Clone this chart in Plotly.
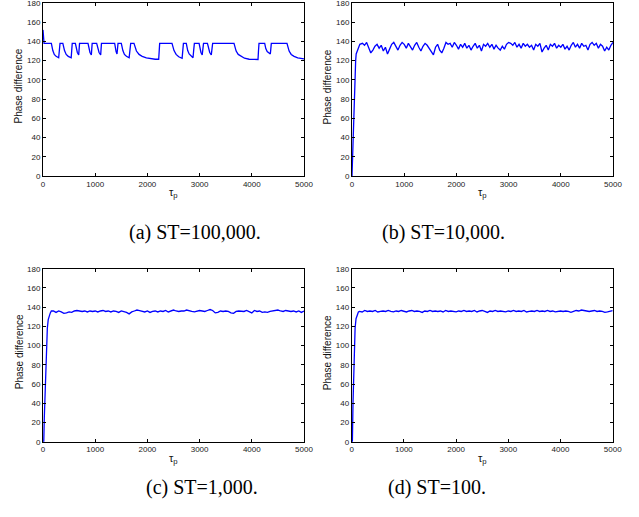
import plotly.graph_objects as go

W, H = 639, 517

# ---------------- data ----------------
# (a) ST=100,000
a_tau = [0, 8, 20, 160,
         171, 188, 216, 251, 300, 312, 326, 380,
         393, 412, 444, 484, 540, 550, 560, 620,
         639, 658, 684, 692, 700, 862,
         881, 900, 926, 934, 942, 1028,
         1051, 1074, 1105, 1112, 1120, 1373,
         1387, 1400, 1418, 1428, 1437, 1500,
         1512, 1530, 1560, 1598, 1650, 1665, 1680, 1743,
         1760, 1790, 1840, 1900, 1980, 2080, 2150, 2216, 2226, 2235, 2471,
         2485, 2510, 2550, 2600, 2665, 2678, 2690, 2745,
         2756, 2772, 2800, 2835, 2874, 2887, 2900, 2990,
         3008, 3026, 3050, 3062, 3075, 3150,
         3172, 3194, 3224, 3237, 3250, 3659,
         3675, 3700, 3740, 3790, 3860, 3950, 4119, 4128, 4138, 4247,
         4268, 4295, 4330, 4355, 4364, 4374, 4674,
         4690, 4715, 4755, 4810, 4880, 4950, 5000]
a_phase = [152, 141, 138, 138,
           134, 130.5, 126.5, 124.5, 123, 131, 138, 138,
           134, 130.5, 126.5, 124.5, 123, 131, 138, 138,
           132, 128.5, 126, 132, 138, 138,
           132, 128.5, 126, 132, 138, 138,
           132, 128.5, 126, 132, 138, 138,
           132.5, 129.5, 127, 132, 138, 138,
           134, 130.5, 126.5, 124.5, 123, 131, 138, 138,
           134, 130, 126.5, 124.5, 123, 122, 121.5, 121.5, 130, 138, 138,
           134, 130.5, 126.5, 124, 122.5, 131, 138, 138,
           134, 130.5, 127, 124.5, 123, 131, 138, 138,
           132, 128.5, 126, 132, 138, 138,
           132, 128.5, 126, 132, 138, 138,
           134, 130, 126.5, 124.5, 122.5, 121.5, 121.2, 130, 138, 138,
           132.5, 129.5, 127.8, 127, 132, 138, 138,
           134, 130, 126.5, 124.5, 123, 122, 121.8]

# (b) ST=10,000
b_rise_tau = [0, 15, 30, 45, 58, 70, 80, 100, 125, 150]
b_rise_phase = [0, 30, 62, 88, 105, 120, 127, 130, 134, 137]
b_step = 40
b_phase = [138, 136, 139, 134, 128, 131, 135, 137, 133, 136,
           130, 134, 127, 132, 137, 139, 135, 131, 136, 139,
           137, 133, 138, 135, 131, 136, 139, 134, 130, 135,
           138, 136, 133, 129, 126, 134, 137, 131, 128, 133,
           139, 137, 138, 134, 139, 136, 132, 137, 134, 138,
           133, 136, 131, 135, 138, 133, 136, 130, 137, 135,
           138, 134, 137, 132, 136, 133, 131, 135, 132, 137,
           139, 138, 136, 139, 134, 137, 133, 138, 135, 137,
           134, 136, 131, 137, 135, 138, 129, 133, 136, 131,
           137, 135, 138, 133, 136, 134, 137, 132, 135, 131,
           136, 139, 134, 137, 133, 138, 135, 136, 131, 137,
           139, 136, 138, 133, 137, 135, 130, 134, 131, 136,
           139]

# (c) ST=1,000
c_rise_tau = [0, 15, 25, 45, 65, 83, 100, 115, 140, 160]
c_rise_phase = [0, 0, 25, 60, 95, 118, 127, 131, 134, 136]
c_step = 50
c_phase = [136, 134.5, 136, 135, 133.5, 134, 135, 134.5, 136, 136.5,
           136, 135.5, 136, 135, 136, 135.5, 136, 135, 136, 136.5,
           135.5, 136, 135, 136, 135.5, 134.5, 136, 135.5, 134.5, 133,
           135, 136, 137, 136.5, 136, 135, 136, 134.5, 135.5, 136,
           135, 136, 135.5, 136.5, 135, 136, 137, 136, 135.5, 136,
           136, 137, 136, 135.5, 135, 136, 136.5, 136, 135.5, 136.5,
           137.5, 136.5, 134, 134.5, 136, 135.5, 136, 135.5, 134, 133.5,
           135.5, 136, 136, 135.5, 136.5, 135, 134, 136.5, 135.5, 136,
           134.5, 135, 134.5, 135.5, 136, 136.5, 137, 136, 135.5, 136.5,
           136, 135.5, 136, 135, 136, 134.5, 136]

# (d) ST=100
d_rise_tau = [0, 13, 25, 38, 51, 65, 83, 105, 128]
d_rise_phase = [0, 0, 40, 75, 100, 118, 128, 133, 135]
d_step = 50
d_phase = [135.5, 135, 136.5, 135.5, 136, 135.5, 136.5, 135, 135.5, 136,
           135.5, 136.5, 135.5, 135, 136, 135.5, 136.5, 135.5, 135, 136,
           136.5, 135.5, 136, 135.5, 134.5, 136, 135.5, 136.5, 135.5, 136,
           135.5, 136, 135, 136.5, 135.5, 136, 135.5, 135, 136, 135.5,
           136.5, 135.5, 136, 135.5, 136.5, 135, 136, 136.5, 135.5, 134.5,
           136, 135.5, 136.5, 135.5, 136, 135.5, 135, 136, 135.5, 136.5,
           135.5, 136, 135.5, 136.5, 135, 135.5, 136, 135.5, 136.5, 135.5,
           136, 135.5, 136.5, 135.5, 136, 135, 135.5, 136, 135.5, 136,
           135.5, 134.5, 135.5, 136.5, 136, 137, 136.5, 136, 135.5, 136,
           136.5, 135.5, 136, 135.5, 134.5, 135, 135.5, 136.5]

x_ticks = [0, 1000, 2000, 3000, 4000, 5000]
y_ticks = [0, 20, 40, 60, 80, 100, 120, 140, 160, 180]
captions = ["(a) ST=100,000.", "(b) ST=10,000.", "(c) ST=1,000.", "(d) ST=100."]

# build full series
b_tau = b_rise_tau + [200 + b_step * i for i in range(len(b_phase))]
b_all = b_rise_phase + b_phase
c_tau = c_rise_tau + [200 + c_step * i for i in range(len(c_phase))]
c_all = c_rise_phase + c_phase
d_tau = d_rise_tau + [150 + d_step * i for i in range(len(d_phase))]
d_all = d_rise_phase + d_phase

series = [(a_tau, a_phase), (b_tau, b_all), (c_tau, c_all), (d_tau, d_all)]

# ---------------- layout geometry (pixels) ----------------
# plot boxes: left, right, top, bottom
boxes = [(43, 304, 3, 176), (352, 613, 3, 176),
         (43, 304, 268.7, 441.7), (351.7, 612.7, 268.7, 441.7)]
ytitle_x = [18, 327, 19, 327]
cap_pos = [(195, 232), (443, 232), (202, 487), (437, 487)]

fig = go.Figure()
tickfont = dict(family="Liberation Sans, Arial, sans-serif", size=8, color="#222222")

for i, (tx, ty) in enumerate(series):
    n = "" if i == 0 else str(i + 1)
    fig.add_trace(go.Scatter(x=tx, y=ty, mode="lines",
                             line=dict(color="#0000ff", width=1.3),
                             xaxis="x" + n, yaxis="y" + n, showlegend=False))
    l, r, t, b = boxes[i]
    fig.layout["xaxis" + n] = dict(
        domain=[l / W, r / W], anchor="y" + n, range=[0, 5000], automargin=False,
        tickvals=x_ticks, ticks="inside", ticklen=3, tickcolor="black",
        showline=True, linecolor="black", linewidth=1, mirror="ticks",
        ticklabeloverflow="allow",
        showgrid=False, zeroline=False, tickfont=tickfont)
    fig.layout["yaxis" + n] = dict(
        domain=[1 - b / H, 1 - t / H], anchor="x" + n, range=[0, 180], automargin=False,
        tickvals=y_ticks, ticks="inside", ticklen=3, tickcolor="black",
        showline=True, linecolor="black", linewidth=1, mirror="ticks",
        ticklabeloverflow="allow",
        showgrid=False, zeroline=False, tickfont=tickfont)
    # axis titles
    fig.add_annotation(text="Phase difference", xref="paper", yref="paper",
                       x=ytitle_x[i] / W, y=1 - ((t + b) / 2 - 3) / H, textangle=-90,
                       showarrow=False, xanchor="center", yanchor="middle",
                       font=dict(family="Liberation Sans, Arial, sans-serif", size=10, color="#111111"))
    fig.add_annotation(text="τ<sub>p</sub>", xref="paper", yref="paper",
                       x=(l + r) / 2 / W, y=1 - (b + 17) / H,
                       showarrow=False, xanchor="center", yanchor="middle",
                       font=dict(family="Liberation Sans, Arial, sans-serif", size=11, color="#111111"))
    cx, cy = cap_pos[i]
    fig.add_annotation(text=captions[i], xref="paper", yref="paper",
                       x=cx / W, y=1 - cy / H, showarrow=False,
                       xanchor="center", yanchor="middle",
                       font=dict(family="Liberation Serif, Times New Roman, serif", size=20, color="black"))

fig.update_layout(width=W, height=H, margin=dict(l=0, r=0, t=0, b=0, autoexpand=False),
                  paper_bgcolor="white", plot_bgcolor="white")

fig.write_html("out.html", config={"displayModeBar": False},
               post_script="document.body.style.margin='0';document.body.style.overflow='hidden';")
